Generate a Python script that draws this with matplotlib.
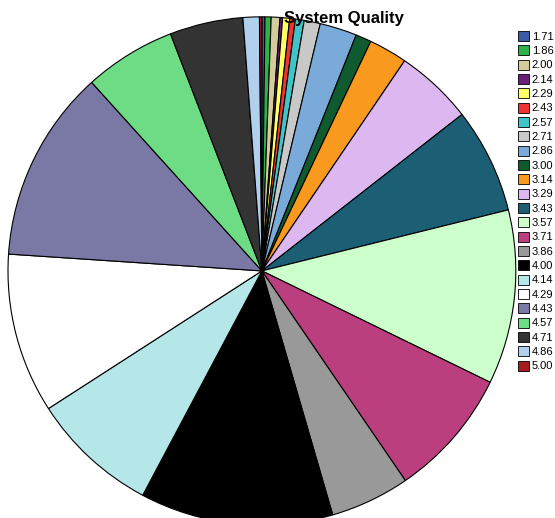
import matplotlib
matplotlib.use("Agg")
import matplotlib.pyplot as plt
from matplotlib.patches import Patch

plt.rcParams["font.family"] = ["Liberation Sans", "DejaVu Sans"]

# System Quality ratings and their share of the pie
ratings = ["1.71", "1.86", "2.00", "2.14", "2.29", "2.43", "2.57", "2.71",
           "2.86", "3.00", "3.14", "3.29", "3.43", "3.57", "3.71", "3.86",
           "4.00", "4.14", "4.29", "4.43", "4.57", "4.71", "4.86", "5.00"]
shares = [0.7, 1.4, 2.0, 0.6, 1.6, 1.3, 2.0, 3.7,
          8.5, 3.6, 8.8, 17.8, 24.1, 39.9, 29.6, 18.2,
          44.2, 29.2, 36.6, 44.1, 21.0, 16.8, 3.75, 0.55]
colors = ["#3b5ba5", "#2db34a", "#d4cc9a", "#6a1f7a", "#ffff66", "#ee3333",
          "#3fc4c8", "#c8c8c8", "#7aaada", "#0f5a2e", "#f99a1e", "#ddb8f0",
          "#1c5f75", "#ccffcc", "#bb3f7e", "#999999", "#000000", "#b5e6e8",
          "#ffffff", "#7a79a6", "#6edb85", "#333333", "#b0d0ee", "#a51c1c"]

fig = plt.figure(figsize=(5.55, 5.18), dpi=100)
# pie centred at ~(262, 271) px, radius ~254 px
ax = fig.add_axes([0.0144, -0.0135, 0.915, 0.981])
ax.pie(shares, colors=colors, startangle=90, counterclock=False, radius=1.0,
       wedgeprops=dict(edgecolor="black", linewidth=0.8))
ax.set_xlim(-1, 1)
ax.set_ylim(-1, 1)
ax.set_aspect("auto")
ax.axis("off")

fig.text(344 / 555, 1 - 18 / 518, "System Quality", ha="center", va="center",
         fontsize=12, fontweight="bold")

handles = [Patch(facecolor=c, edgecolor="black", linewidth=0.6) for c in colors]
fig.legend(handles, ratings, loc="upper left", bbox_to_anchor=(518 / 555, 1 - 31 / 518),
           frameon=False, fontsize=8, handlelength=1.0, handleheight=1.0,
           handletextpad=0.25, labelspacing=0.32, borderpad=0, borderaxespad=0)

fig.savefig("out.png", dpi=100)
